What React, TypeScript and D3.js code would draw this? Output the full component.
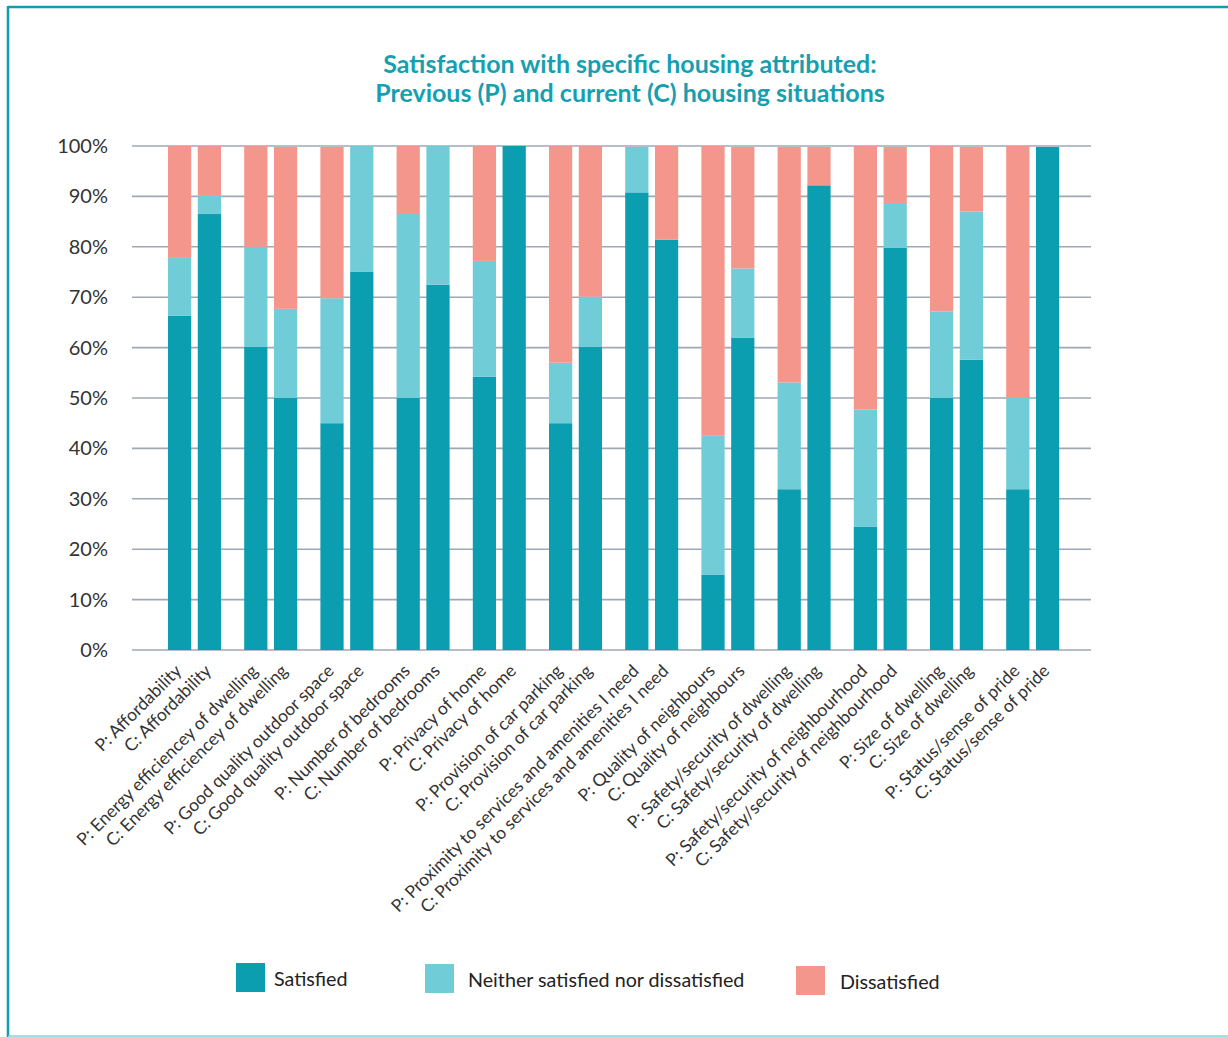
import React from "react";
import * as d3 from "d3";

const categories = [
  "Affordability",
  "Energy efficiencey of dwelling",
  "Good quality outdoor space",
  "Number of bedrooms",
  "Privacy of home",
  "Provision of car parking",
  "Proximity to services and amenities I need",
  "Quality of neighbours",
  "Safety/security of dwelling",
  "Safety/security of neighbourhood",
  "Size of dwelling",
  "Status/sense of pride",
];
const periods = ["P", "C"];

const satisfiedP = [66.3, 60.2, 45.0, 50.0, 54.2, 45.0, 90.8, 14.9, 31.9, 24.5, 50.0, 31.9];
const satisfiedC = [86.5, 50.0, 75.1, 72.5, 100, 60.2, 81.4, 62.0, 92.2, 79.8, 57.6, 99.8];
const neitherP = [11.5, 19.8, 24.8, 36.5, 23.0, 12.0, 9.0, 27.6, 21.2, 23.2, 17.2, 18.1];
const neitherC = [3.6, 17.7, 24.9, 27.5, 0, 9.9, 0, 13.7, 0, 8.9, 29.4, 0];
const dissatisfiedP = [22.2, 20.0, 30.0, 13.5, 22.8, 43.0, 0, 57.5, 46.7, 52.3, 32.8, 50.0];
const dissatisfiedC = [9.9, 32.1, 0, 0, 0, 29.9, 18.6, 24.1, 7.6, 11.1, 12.8, 0];

const yTicks = [0, 10, 20, 30, 40, 50, 60, 70, 80, 90, 100];
const seriesKeys = ["sat", "neither", "dissat"];
const seriesNames = ["Satisfied", "Neither satisfied nor dissatisfied", "Dissatisfied"];
const seriesColors = ["#0b9db0", "#70ccd7", "#f4968b"];

const FONT = "Lato, 'Open Sans', sans-serif";

export default function App() {
  const W = 1228, H = 1037;
  const plotL = 132, plotR = 1091, plotT = 146, plotB = 650;

  const rows = categories.flatMap((c, i) => [
    { id: `P${i}`, group: c, period: "P", sat: satisfiedP[i], neither: neitherP[i], dissat: dissatisfiedP[i] },
    { id: `C${i}`, group: c, period: "C", sat: satisfiedC[i], neither: neitherC[i], dissat: dissatisfiedC[i] },
  ]);

  const x0 = d3.scaleBand().domain(categories).range([156.4, 1070.8]).padding(0);
  const step = x0.step();
  const x1 = d3.scaleBand().domain(periods).range([step / 2 - 26.5, step / 2 + 26.5]).paddingInner(0.22).paddingOuter(0);
  const y = d3.scaleLinear().domain([0, 100]).range([plotB, plotT]);

  const stacked = d3.stack().keys(seriesKeys)(rows as any);

  const barX = (r: any) => (x0(r.group) as number) + (x1(r.period) as number);
  const bw = x1.bandwidth();

  const legendX = [236, 425, 796];
  const legendTextX = [274, 468, 840];
  const legendY = [963, 964, 966];

  return (
    <svg width={W} height={H} style={{ position: "absolute", left: 0, top: 0, background: "#fff" }} fontFamily={FONT}>
      <rect x={0} y={0} width={W} height={H} fill="#fff" />
      {/* frame */}
      <line x1={8} x2={W} y1={7} y2={7} stroke="#0f9db0" strokeWidth={2.5} />
      <line x1={8} x2={8} y1={6} y2={H} stroke="#0f9db0" strokeWidth={2.5} />
      <line x1={8} x2={W} y1={1036} y2={1036} stroke="#86d4dd" strokeWidth={1.5} />

      {/* title */}
      <text x={630} y={73} textAnchor="middle" fontSize={25} fontWeight={700} fill="#169fb0">
        Satisfaction with specific housing attributed:
      </text>
      <text x={630} y={102} textAnchor="middle" fontSize={25} fontWeight={700} fill="#169fb0">
        Previous (P) and current (C) housing situations
      </text>

      {/* grid */}
      {yTicks.map((t) => (
        <g key={t}>
          <line x1={plotL} x2={plotR} y1={y(t)} y2={y(t)} stroke="#9ea9b5" strokeWidth={1.6} />
          <text x={108} y={y(t)} dy="0.35em" textAnchor="end" fontSize={20} fill="#333">
            {t}%
          </text>
        </g>
      ))}

      {/* bars */}
      {stacked.map((s, si) => (
        <g key={s.key} fill={seriesColors[si]}>
          {s.map((d: any, i: number) => {
            const r = rows[i];
            const h = y(d[0]) - y(d[1]);
            if (h <= 0) return null;
            return <rect key={r.id} x={barX(r)} y={y(d[1])} width={bw} height={h} />;
          })}
        </g>
      ))}

      {/* category labels */}
      {rows.map((r) => {
        const cx = barX(r) + bw / 2;
        return (
          <text
            key={r.id}
            transform={`translate(${cx + 3},${672}) rotate(-45)`}
            textAnchor="end"
            fontSize={17.5}
            fill="#333"
          >
            {`${r.period}: ${r.group}`}
          </text>
        );
      })}

      {/* legend */}
      {seriesNames.map((n, i) => (
        <g key={n}>
          <rect x={legendX[i]} y={legendY[i]} width={29} height={29} fill={seriesColors[i]} />
          <text x={legendTextX[i]} y={legendY[i] + 23} fontSize={19.7} fill="#222">
            {n}
          </text>
        </g>
      ))}
    </svg>
  );
}
